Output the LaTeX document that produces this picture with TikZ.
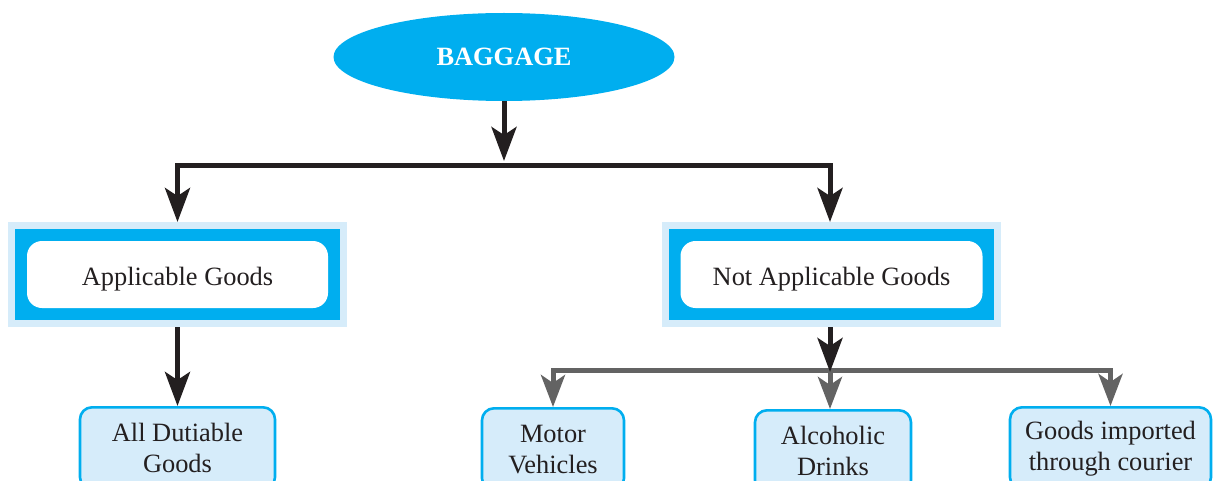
\documentclass[tikz,border=0pt]{standalone}
\usepackage{fontspec}
\setmainfont{Liberation Serif}
\usepackage{tikz}
\usetikzlibrary{arrows.meta, positioning, shapes.geometric}
\definecolor{skycyan}{RGB}{0,174,239}
\definecolor{paleblue}{RGB}{214,236,250}
\definecolor{midgray}{RGB}{99,99,99}
\definecolor{inkblack}{RGB}{35,31,32}

\begin{document}
\begin{tikzpicture}[
          x=0.5pt, y=-0.5pt,
          line join=miter,
          rootnode/.style={
            ellipse, fill=skycyan, inner sep=0pt,
            minimum width=170.5pt, minimum height=44pt,
            font=\fontsize{13.2}{15.5}\selectfont\bfseries, text=white
          },
          framebox/.style={
            rectangle, fill=skycyan, draw=paleblue, line width=3.5pt,
            minimum width=166pt, minimum height=49pt
          },
          innerbox/.style={
            rectangle, rounded corners=7.5pt, fill=white,
            minimum width=150.5pt, minimum height=33.5pt,
            text depth=0pt, text height=11pt,
            font=\fontsize{13.2}{15.5}\selectfont, text=inkblack
          },
          leafbox/.style={
            rectangle, rounded corners=6pt,
            draw=skycyan, fill=paleblue, line width=1.3pt,
            anchor=north, align=center, minimum height=41pt, inner sep=2pt,
            font=\fontsize{13.2}{15.5}\selectfont, text=inkblack
          },
          arrow/.style={
            -{Stealth[length=17pt, width=12.5pt, inset=4pt]},
            line width=2.5pt, color=inkblack
          },
          grayarrow/.style={
            -{Stealth[length=16pt, width=12pt, inset=4pt]},
            line width=2.5pt, color=midgray
          }
        ]
          \useasboundingbox (0,0) rectangle (1215,481);

          \node[rootnode] (bag) at (504,57) {BAGGAGE};

          \node[framebox] (appl)    at (177.5,274.5) {};
          \node[innerbox] (applin)  at (appl.center) {Applicable Goods};
          \node[framebox] (notappl) at (831.5,274.5) {};
          \node[innerbox, minimum width=151pt] (notin) at (notappl.center) {Not Applicable Goods};

          \node[leafbox, minimum width=97.5pt]  (duty)    at (177.5,406) {All Dutiable\\Goods};
          \node[leafbox, minimum width=71pt]    (motor)   at (553,407)   {Motor\\Vehicles};
          \node[leafbox, minimum width=78pt]    (drinks)  at (833,409)   {Alcoholic\\Drinks};
          \node[leafbox, minimum width=100.5pt] (courier) at (1110.5,406) {Goods imported\\through courier};

          \coordinate (split)  at (504,165);
          \coordinate (split2) at (830,370);

          \draw[arrow] (split) -| (appl.north);
          \draw[arrow] (split) -| ([xshift=-0.75pt]notappl.north);
          \draw[arrow] (bag) -- ([yshift=2pt]split);
          \draw[arrow] (appl) -- (duty);

          \draw[grayarrow] (split2) -| (motor.north);
          \draw[grayarrow] (split2) -- (split2 |- drinks.north);
          \draw[grayarrow] (split2) -| (courier.north);
          \draw[arrow] (split2 |- notappl.south) -- ([yshift=-1pt]split2);
        \end{tikzpicture}
\end{document}
